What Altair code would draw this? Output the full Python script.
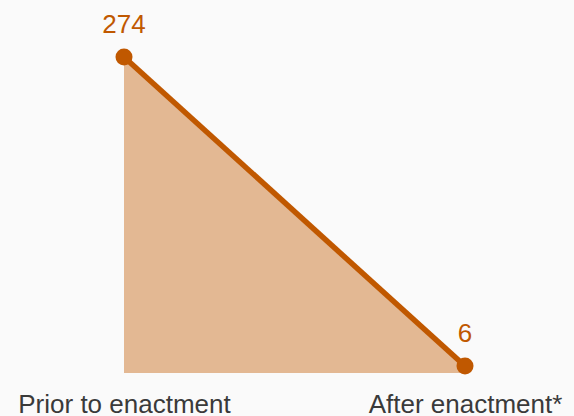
import altair as alt
import pandas as pd

# Before/after comparison
periods = ["Prior to enactment", "After enactment*"]
positions = [0, 1]
counts = [274, 6]

LINE = "#c05800"
FILL = "#e3b893"

df = pd.DataFrame({"period": periods, "pos": positions, "count": counts})

label_expr = "datum.value == 0 ? 'Prior to enactment' : 'After enactment*'"

x = alt.X(
    "pos:Q",
    scale=alt.Scale(domain=[0, 1], nice=False, zero=False),
    axis=alt.Axis(
        values=positions,
        labelExpr=label_expr,
        title=None,
        grid=False,
        domain=False,
        ticks=False,
        labelFontSize=26,
        labelFont="Liberation Sans",
        labelColor="#3a3a3a",
        labelBaseline="alphabetic",
        labelPadding=39,
        labelFlush=False,
        labelOverlap=False,
        labelLimit=600,
    ),
)
y = alt.Y(
    "count:Q",
    scale=alt.Scale(domain=[0, 274], nice=False),
    axis=None,
)

base = alt.Chart(df).encode(x=x, y=y)

area = base.mark_area(color=FILL, opacity=1)
line = base.mark_line(color=LINE, strokeWidth=5.5)
points = base.mark_point(filled=True, color=LINE, size=290, opacity=1)
labels = base.mark_text(
    color=LINE,
    fontSize=26,
    font="Liberation Sans",
    baseline="alphabetic",
    dy=-24,
).encode(text="count:Q")

chart = (
    alt.layer(area, line, points, labels)
    .properties(
        width=341,
        height=316,
        background="#fafafa",
        padding={"left": 124, "top": 57, "right": 109, "bottom": 43},
        autosize=alt.AutoSizeParams(type="none"),
    )
    .configure_view(stroke=None)
)

chart.save("out.html", embed_options={"renderer": "svg", "actions": False})
